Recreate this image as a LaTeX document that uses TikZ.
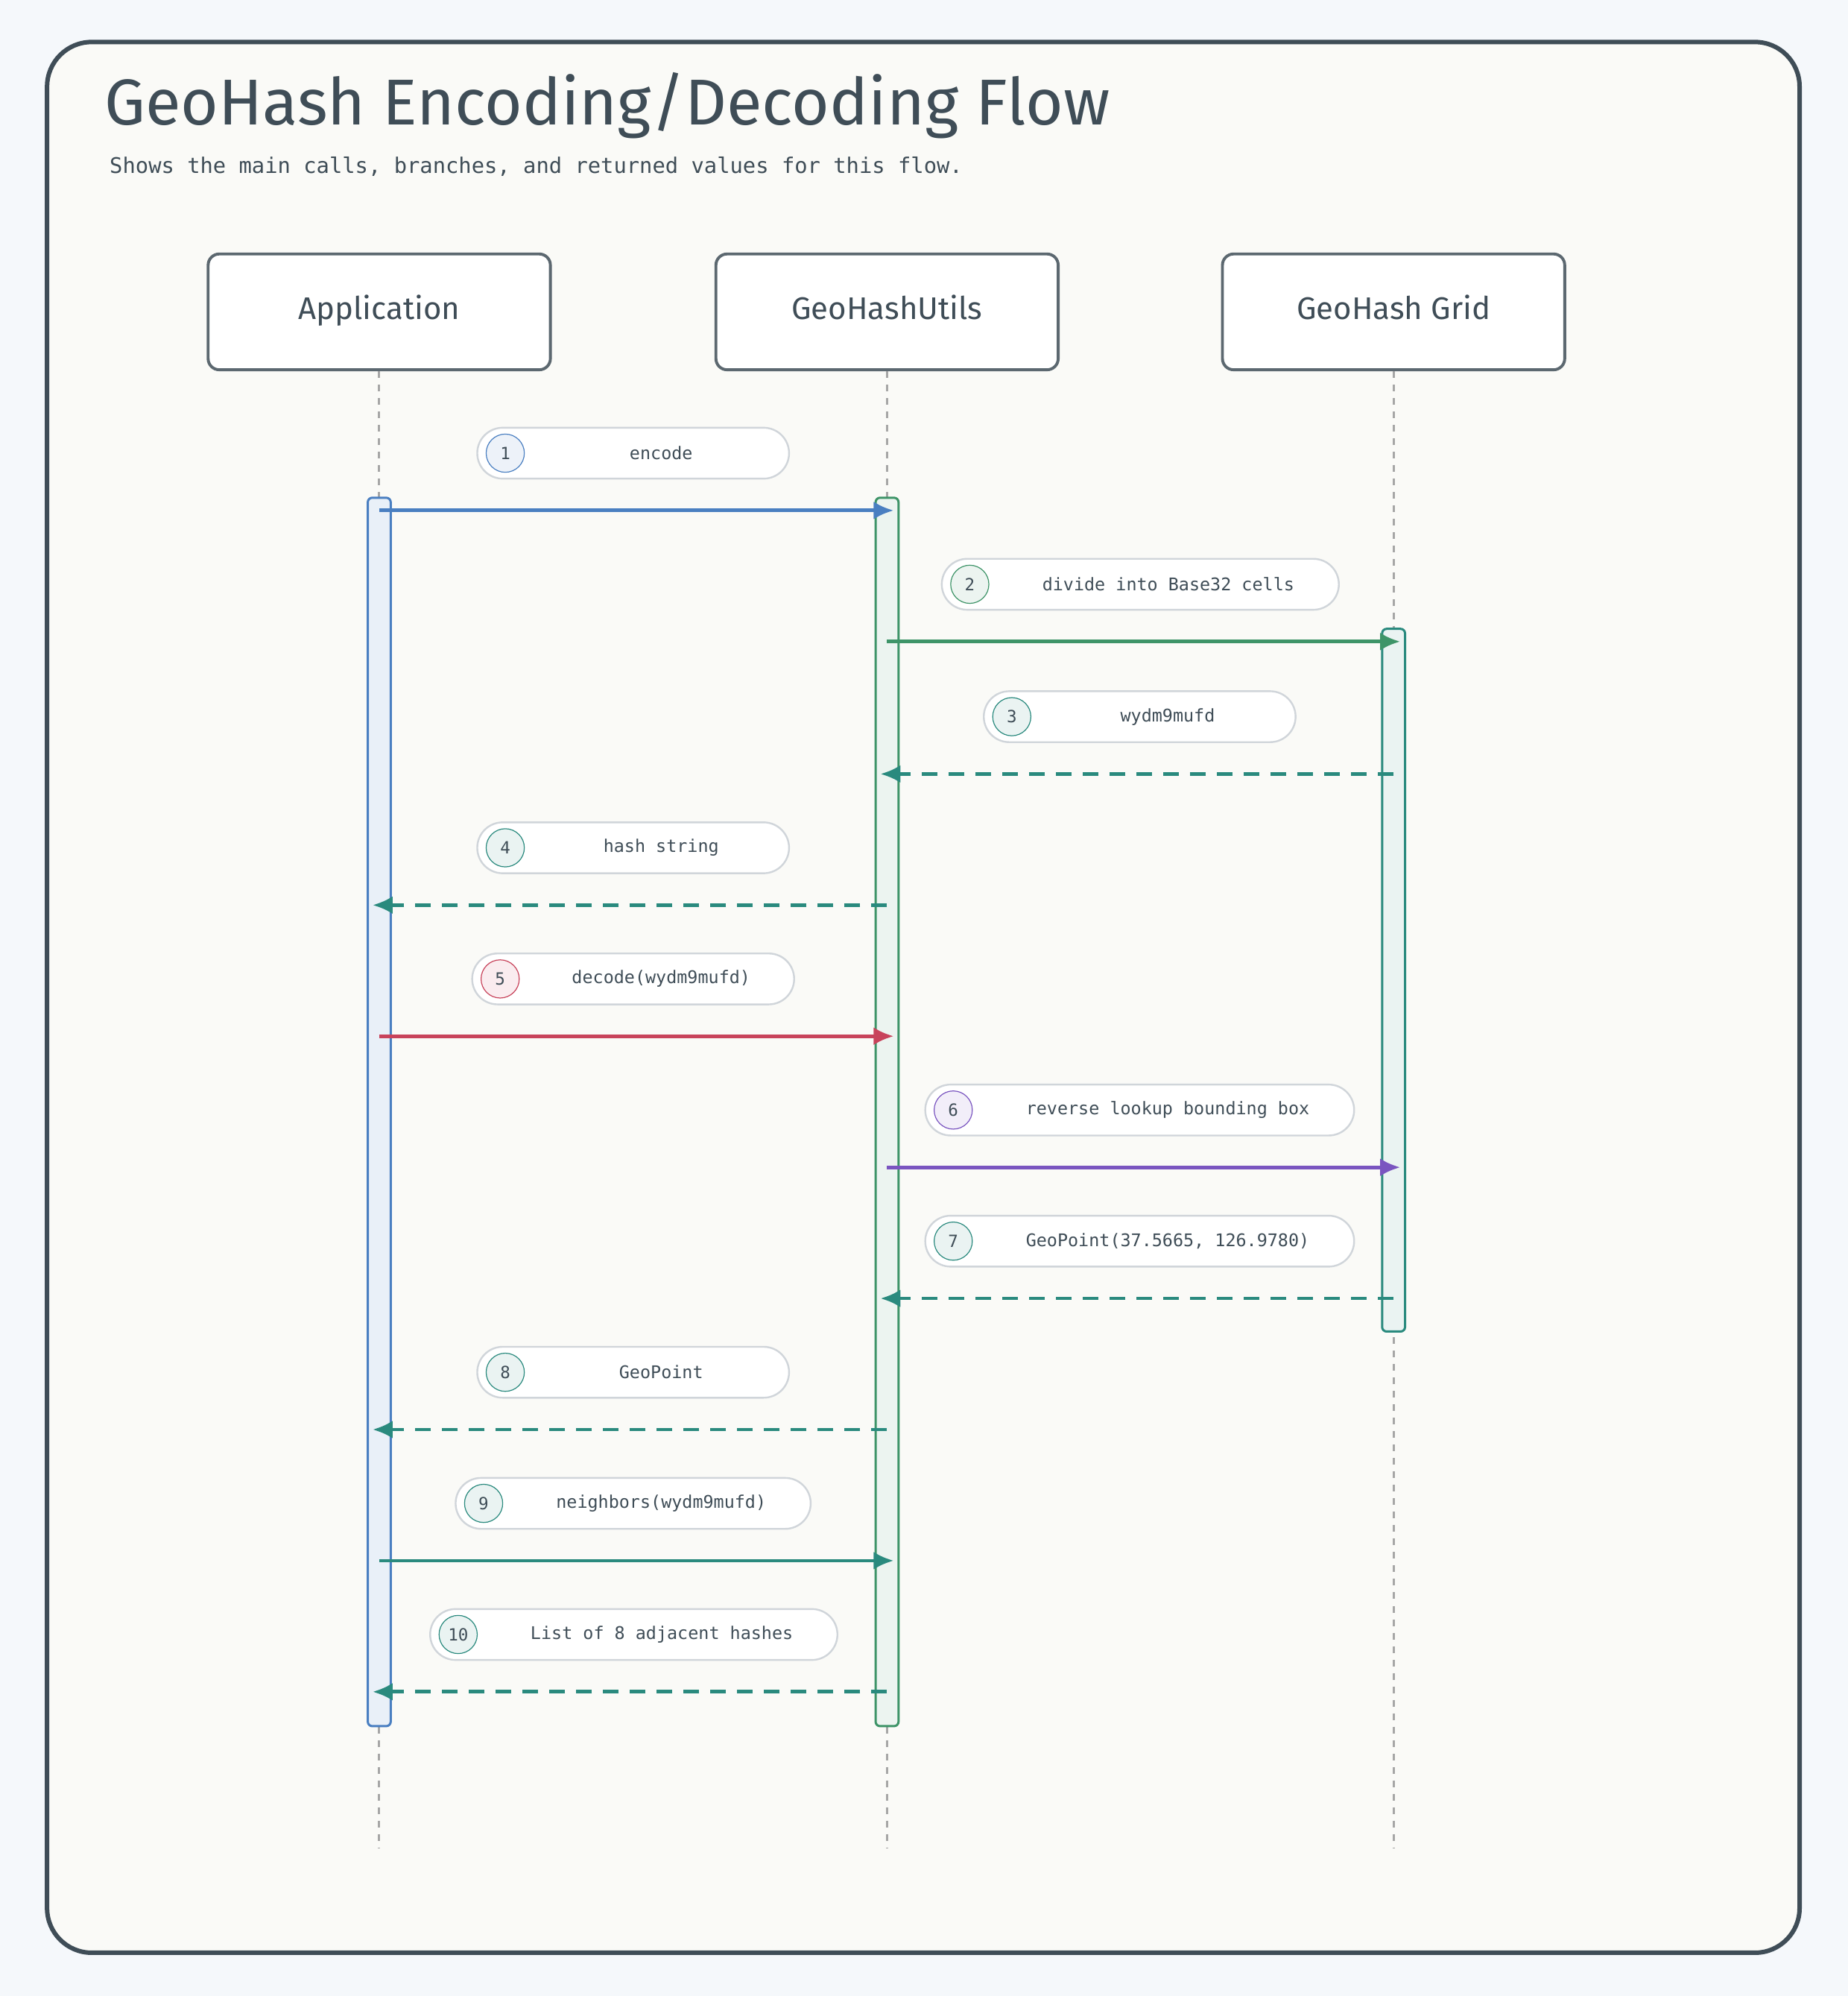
\documentclass[tikz,border=0pt]{standalone}
\usepackage{fontspec}
\setmainfont{Fira Sans}
\newfontfamily\monofont{DejaVu Sans Mono}
\usetikzlibrary{arrows.meta}
\definecolor{frame}{HTML}{3F4D57}
\definecolor{cblue}{HTML}{4A7FC1}
\definecolor{cgreen}{HTML}{3E9468}
\definecolor{cteal}{HTML}{2A8A7E}
\definecolor{cred}{HTML}{C8435B}
\definecolor{cpurple}{HTML}{7A55C0}
\definecolor{pillline}{HTML}{D0D5DA}
\tikzset{
  actor/.style={draw=frame!85,line width=1.3pt,rounded corners=5pt,fill=white,minimum width=5.38cm,minimum height=1.82cm,text height=10pt,text depth=3pt,font=\fontsize{14}{16}\selectfont,text=frame},
  life/.style={draw=gray!70,dashed,line width=1pt},
  act/.style={rounded corners=2pt,line width=1pt},
  pill/.style={draw=pillline,fill=white,rounded corners=0.4cm,line width=0.8pt},
  num/.style={circle,draw=#1,fill=#1!10,minimum size=0.6cm,inner sep=0pt,font=\monofont\fontsize{7.5}{9}\selectfont,text=frame},
  lbl/.style={font=\monofont\fontsize{7.8}{9}\selectfont,text=frame},
  call/.style={draw=#1,line width=1.6pt,-{Latex[length=9pt,width=8pt]},shorten >=-3pt},
  ret/.style={draw=#1,line width=1.6pt,dash pattern=on 7pt off 5pt,-{Latex[length=9pt,width=8pt]},shorten >=-3pt}
}
\begin{document}
\begin{tikzpicture}[x=0.02cm,y=-0.02cm]
    \useasboundingbox[fill={rgb,255:red,245;green,248;blue,251}] (0,0) rectangle (1452,1568);
    \draw [draw=frame,line width=2pt,fill={rgb,255:red,250;green,250;blue,247},rounded corners=0.7cm] (37,33) rectangle (1414,1534);
    \node (title) [anchor=base west,font=\fontsize{29}{33}\selectfont,text=frame] at (76,98) {GeoHash Encoding/Decoding Flow};
    \node (sub) [anchor=base west,font=\monofont\fontsize{9.6}{11}\selectfont,text=frame] at (80,136) {Shows the main calls, branches, and returned values for this flow.};
    % participants
    \node (app) [actor] at (298,245) {Application};
    \node (utils) [actor] at (697,245) {GeoHashUtils};
    \node (grid) [actor] at (1095,245) {GeoHash Grid};
    \draw [life] (app.south) -- (298,1452);
    \draw [life] (utils.south) -- (697,1452);
    \draw [life] (grid.south) -- (1095,1452);
    % activations
    \draw [act,draw=cblue,fill=cblue!12] (289,391) rectangle (307,1356);
    \draw [act,draw=cgreen,fill=cgreen!10] (688,391) rectangle (706,1356);
    \draw [act,draw=cteal,fill=cteal!10] (1086,494) rectangle (1104,1046);
    % messages: n / y / pill left / pill right / from / to / style / colour / text
    \foreach \n/\y/\l/\r/\a/\b/\s/\c/\t in {
        1/356/375/620/298/697/call/cblue/encode,
        2/459/740/1052/697/1095/call/cgreen/divide into Base32 cells,
        3/563/773/1018/1095/697/ret/cteal/wydm9mufd,
        4/666/375/620/697/298/ret/cteal/hash string,
        5/769/371/624/298/697/call/cred/decode(wydm9mufd),
        6/872/727/1064/697/1095/call/cpurple/reverse lookup bounding box,
        7/975/727/1064/1095/697/ret/cteal/{GeoPoint(37.5665, 126.9780)},
        8/1078/375/620/697/298/ret/cteal/GeoPoint,
        9/1181/358/637/298/697/call/cteal/neighbors(wydm9mufd),
        10/1284/338/658/697/298/ret/cteal/List of 8 adjacent hashes} {
        \draw [pill] (\l,\y-20) rectangle (\r,\y+20);
        \node (n\n) [num=\c] at (\l+22,\y) {\n};
        \node (m\n) [lbl] at ({(\l+44+\r)/2},\y) {\t};
        \coordinate (s\n) at (\a,\y+45);
        \coordinate (e\n) at (\b,\y+45);
        \draw [\s=\c] (s\n) -- (e\n);
    }
\end{tikzpicture}
\end{document}
